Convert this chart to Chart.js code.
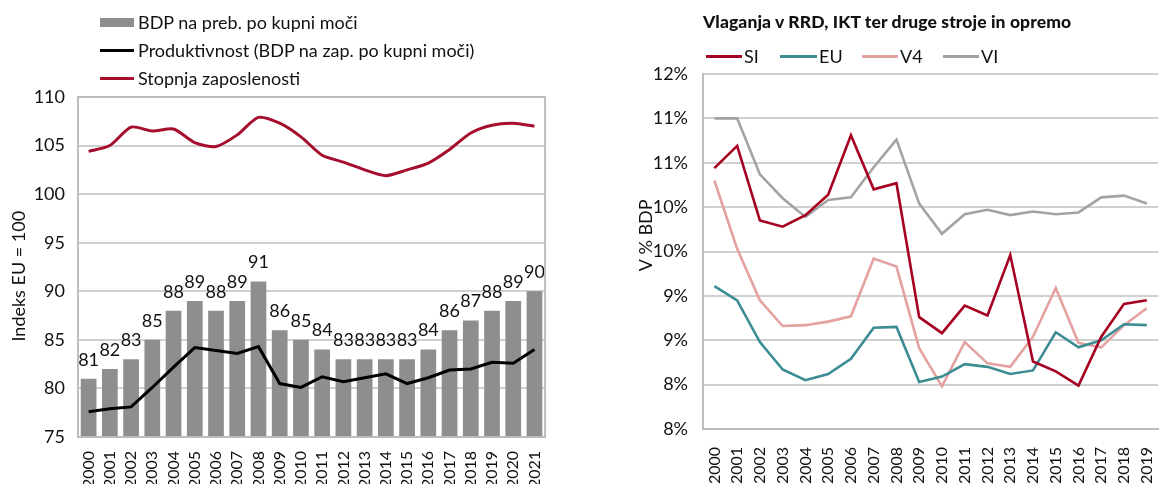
<!DOCTYPE html>
<html>
<head>
<meta charset="utf-8">
<script src="https://cdn.jsdelivr.net/npm/chart.js@4.4.1/dist/chart.umd.min.js"></script>
<style>
  html,body{margin:0;padding:0;background:#fff;}
  body{width:1176px;height:484px;position:relative;overflow:hidden;font-family:Lato,"Open Sans",sans-serif;color:#111;}
  .box{position:absolute;top:0;height:484px;}
  .lg{position:absolute;font-size:18px;line-height:20px;white-space:nowrap;}
  .sw{position:absolute;}
  .ttl{position:absolute;font-weight:900;font-size:17.5px;white-space:nowrap;letter-spacing:0.1px;}
</style>
</head>
<body>
<div class="box" style="left:0;width:560px;"><canvas id="c1" width="560" height="484"></canvas></div>
<div class="box" style="left:600px;width:576px;"><canvas id="c2" width="576" height="484"></canvas></div>

<!-- left legend -->
<div class="sw" style="left:100px;top:18px;width:34px;height:9px;background:#8e8e8e;"></div>
<div class="lg" style="left:138px;top:12px;">BDP na preb. po kupni moči</div>
<div class="sw" style="left:100px;top:49px;width:34px;height:3px;background:#000;"></div>
<div class="lg" style="left:138px;top:40px;">Produktivnost (BDP na zap. po kupni moči)</div>
<div class="sw" style="left:100px;top:77px;width:34px;height:3px;background:#a50f2d;"></div>
<div class="lg" style="left:138px;top:68px;">Stopnja zaposlenosti</div>

<!-- right title + legend -->
<div class="ttl" style="left:703px;top:11px;">Vlaganja v RRD, IKT ter druge stroje in opremo</div>
<div class="sw" style="left:706px;top:55px;width:36px;height:3px;background:#a50021;"></div>
<div class="lg" style="left:744px;top:46px;">SI</div>
<div class="sw" style="left:780px;top:55px;width:37px;height:3px;background:#3c8d93;"></div>
<div class="lg" style="left:819px;top:46px;">EU</div>
<div class="sw" style="left:862px;top:55px;width:36px;height:3px;background:#e3a19f;"></div>
<div class="lg" style="left:900px;top:46px;">V4</div>
<div class="sw" style="left:943px;top:55px;width:36px;height:3px;background:#a3a3a3;"></div>
<div class="lg" style="left:981px;top:46px;">VI</div>

<script>
// ---------- Left chart data ----------
const yearsL = ['2000','2001','2002','2003','2004','2005','2006','2007','2008','2009','2010','2011','2012','2013','2014','2015','2016','2017','2018','2019','2020','2021'];
const gdpPPS = [81,82,83,85,88,89,88,89,91,86,85,84,83,83,83,83,84,86,87,88,89,90];
const productivity = [77.6,77.9,78.1,80.1,82.2,84.2,83.9,83.6,84.3,80.5,80.1,81.2,80.7,81.1,81.5,80.5,81.1,81.9,82.0,82.7,82.6,84.0];
const employment = [104.4,105.0,106.9,106.5,106.7,105.3,104.9,106.1,107.9,107.3,105.9,104.0,103.3,102.5,101.9,102.5,103.2,104.6,106.3,107.1,107.3,107.0];
const ticksL = {min:75, max:110, step:5};

// ---------- Right chart data ----------
const yearsR = ['2000','2001','2002','2003','2004','2005','2006','2007','2008','2009','2010','2011','2012','2013','2014','2015','2016','2017','2018','2019'];
const SI = [10.44,10.69,9.85,9.78,9.91,10.14,10.81,10.20,10.27,8.76,8.58,8.89,8.78,9.46,8.26,8.15,7.99,8.54,8.91,8.95];
const EU = [9.11,8.95,8.48,8.17,8.05,8.12,8.29,8.64,8.65,8.03,8.09,8.23,8.20,8.12,8.16,8.59,8.42,8.50,8.68,8.67];
const V4 = [10.30,9.53,8.95,8.66,8.67,8.71,8.77,9.42,9.33,8.41,7.98,8.48,8.24,8.20,8.54,9.09,8.47,8.42,8.67,8.86];
const VI = [11.00,11.00,10.37,10.10,9.89,10.08,10.11,10.45,10.76,10.04,9.70,9.92,9.97,9.91,9.95,9.92,9.94,10.11,10.13,10.04];
const ticksR = {min:7.5, max:11.5, step:0.5};

const FONT = 'Lato, "Open Sans", sans-serif';
const GRID = '#d0d0d0';
const AXIS = '#bdbdbd';
const TXT = '#111';

const frame = {
  id:'frame',
  afterDraw(chart, args, opts){
    const a = chart.chartArea, ctx = chart.ctx;
    ctx.save();
    ctx.strokeStyle = opts.color || AXIS;
    ctx.lineWidth = 2;
    ctx.strokeRect(a.left, a.top, a.right - a.left, a.bottom - a.top);
    ctx.restore();
  }
};

const barLabels = {
  id:'barLabels',
  afterDatasetsDraw(chart){
    const meta = chart.getDatasetMeta(0);
    const ctx = chart.ctx;
    ctx.save();
    ctx.font = '18px ' + FONT;
    ctx.fillStyle = TXT;
    ctx.textAlign = 'center';
    ctx.textBaseline = 'middle';
    meta.data.forEach((bar, i) => ctx.fillText(String(gdpPPS[i]), bar.x, bar.y - 19));
    ctx.restore();
  }
};

new Chart(document.getElementById('c1'), {
  data: {
    labels: yearsL,
    datasets: [
      {type:'bar', label:'BDP na preb. po kupni moči', data:gdpPPS, backgroundColor:'#8e8e8e', barPercentage:0.74, categoryPercentage:1, order:3},
      {type:'line', label:'Produktivnost (BDP na zap. po kupni moči)', data:productivity, borderColor:'#000', borderWidth:3, pointRadius:0, tension:0, order:2},
      {type:'line', label:'Stopnja zaposlenosti', data:employment, borderColor:'#a50f2d', borderWidth:3, pointRadius:0, tension:0.25, order:1}
    ]
  },
  options: {
    responsive:false, animation:false,
    layout:{padding:{top:97, right:14, left:0, bottom:0}},
    plugins:{legend:{display:false}, tooltip:{enabled:false}, frame:{color:AXIS}},
    scales:{
      x:{
        grid:{display:false},
        border:{display:false},
        ticks:{font:{family:FONT, size:16}, color:TXT, minRotation:90, maxRotation:90, autoSkip:false, padding:6},
        afterFit(s){ s.height = 47; }
      },
      y:{
        min:ticksL.min, max:ticksL.max,
        ticks:{stepSize:ticksL.step, font:{family:FONT, size:18}, color:TXT, padding:13},
        grid:{color:GRID, lineWidth:2, drawTicks:false},
        border:{display:false},
        title:{display:true, text:'Indeks EU = 100    ', font:{family:FONT, size:18}, color:TXT, padding:{top:8, bottom:0}},
        afterFit(s){ s.width = 78; }
      }
    }
  },
  plugins:[frame, barLabels]
});

const lineDs = (label, data, color) => ({label, data, borderColor:color, backgroundColor:color, borderWidth:2.6, pointRadius:0, tension:0});

new Chart(document.getElementById('c2'), {
  type:'line',
  data: {
    labels: yearsR,
    datasets: [
      lineDs('SI', SI, '#a50021'),
      lineDs('EU', EU, '#3c8d93'),
      lineDs('V4', V4, '#e3a19f'),
      lineDs('VI', VI, '#a3a3a3')
    ]
  },
  options: {
    responsive:false, animation:false,
    layout:{padding:{top:74, right:0, left:0, bottom:0}},
    plugins:{legend:{display:false}, tooltip:{enabled:false}},
    scales:{
      x:{
        offset:true,
        grid:{display:false},
        border:{display:true, color:AXIS, width:2},
        ticks:{font:{family:FONT, size:16}, color:TXT, minRotation:90, maxRotation:90, autoSkip:false, padding:10},
        afterFit(s){ s.height = 55; }
      },
      y:{
        min:ticksR.min, max:ticksR.max,
        ticks:{stepSize:ticksR.step, font:{family:FONT, size:18}, color:TXT, padding:15,
               callback:(v) => Math.round(v) + '%'},
        grid:{color:GRID, lineWidth:2, drawTicks:false},
        border:{display:true, color:AXIS, width:2},
        title:{display:true, text:'       V % BDP', font:{family:FONT, size:18}, color:TXT, padding:{top:35, bottom:0}},
        afterFit(s){ s.width = 103; }
      }
    }
  }
});
</script>
</body>
</html>
